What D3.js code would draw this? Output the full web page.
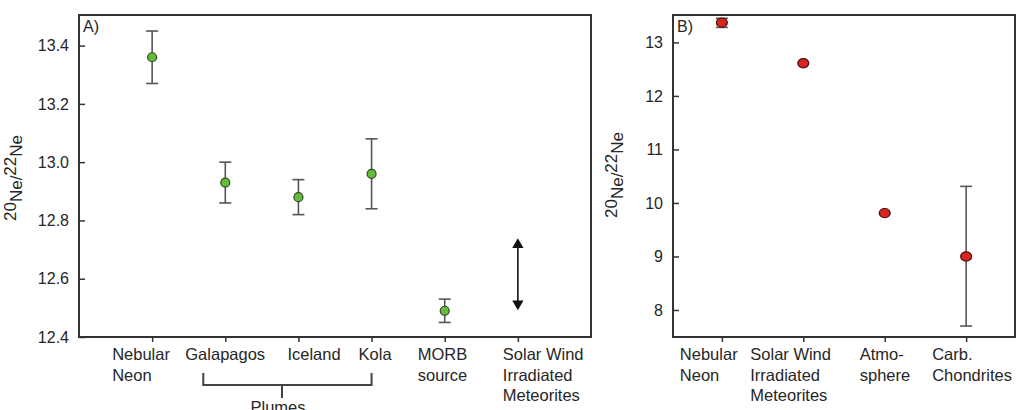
<!DOCTYPE html>
<html>
<head>
<meta charset="utf-8">
<script src="https://cdn.jsdelivr.net/npm/d3@7"></script>
<style>
  body { margin: 0; background: #fff; }
  text { font-family: "Liberation Sans", Arial, sans-serif; fill: #262626; }
</style>
</head>
<body>
<svg width="1021" height="410"></svg>
<script>
// ---- data, panel A ----
const catsA = ['Nebular Neon', 'Galapagos', 'Iceland', 'Kola', 'MORB source', 'Solar Wind'];
const labelsA = [['Nebular', 'Neon'], ['Galapagos'], ['Iceland'], ['Kola'], ['MORB', 'source'], ['Solar Wind', 'Irradiated', 'Meteorites']];
const valA = [13.36, 12.93, 12.88, 12.96, 12.49, null];
const hiA = [13.45, 13.00, 12.94, 13.08, 12.53, null];
const loA = [13.27, 12.86, 12.82, 12.84, 12.45, null];
const arrowA = [12.50, 12.73];          // solar wind irradiated meteorites range
const ticksA = [12.4, 12.6, 12.8, 13.0, 13.2, 13.4];
const plumesA = ['Galapagos', 'Kola'];

// ---- data, panel B ----
const catsB = ['Nebular Neon', 'Solar Wind', 'Atmosphere', 'Carb. Chondrites'];
const labelsB = [['Nebular', 'Neon'], ['Solar Wind', 'Irradiated', 'Meteorites'], ['Atmo-', 'sphere'], ['Carb.', 'Chondrites']];
const valB = [13.37, 12.61, 9.81, 9.0];
const hiB = [13.45, null, null, 10.31];
const loB = [13.28, null, null, 7.7];
const ticksB = [8, 9, 10, 11, 12, 13];

// ---- layout ----
const svg = d3.select('svg');
const plotTop = 15, plotBottom = 337;
const boxA = {left: 79, right: 591};
const boxB = {left: 673, right: 1015};
const labelShiftA = [-40, -40, -11, -13, -27, -15];
const labelShiftB = [-42, -53, -25, -34];

const xA = d3.scalePoint().domain(catsA).range([boxA.left, boxA.right]).padding(1);
const yA = d3.scaleLinear().domain([12.4, 13.505]).range([plotBottom, plotTop]);
const xB = d3.scalePoint().domain(catsB).range([boxB.left, boxB.right]).padding(0.6);
const yB = d3.scaleLinear().domain([7.495, 13.512]).range([plotBottom, plotTop]);

function panel(box, x, y, ticks, fmt, cats, labels, shifts, name, ylabX, ylabY) {
    const g = svg.append('g');

    const ya = g.append('g')
        .attr('transform', `translate(${box.left},0)`)
        .call(d3.axisLeft(y).tickValues(ticks).tickFormat(fmt).tickSize(-6).tickPadding(10));
    ya.select('.domain').remove();
    ya.selectAll('line').attr('stroke', '#333').attr('stroke-width', 1.5);
    ya.selectAll('text').attr('font-size', 16).attr('fill', '#262626')
        .style('font-family', '"Liberation Sans", Arial, sans-serif');

    const xa = g.append('g')
        .attr('transform', `translate(0,${plotBottom})`)
        .call(d3.axisBottom(x).tickSize(5).tickFormat(''));
    xa.select('.domain').remove();
    xa.selectAll('line').attr('stroke', '#333').attr('stroke-width', 1.5);

    g.append('rect')
        .attr('x', box.left).attr('y', plotTop)
        .attr('width', box.right - box.left).attr('height', plotBottom - plotTop)
        .attr('fill', 'none').attr('stroke', '#333').attr('stroke-width', 2);

    // category labels
    cats.forEach((c, i) => {
        const t = g.append('text')
            .attr('x', x(c) + shifts[i]).attr('y', 360)
            .attr('font-size', 16.5);
        labels[i].forEach((l, j) => {
            t.append('tspan').attr('x', x(c) + shifts[i]).attr('dy', j ? 20.5 : 0).text(l);
        });
    });

    g.append('text').attr('x', box.left + 4).attr('y', 32)
        .attr('font-size', 16).text(name);

    // y label 20Ne/22Ne
    const yl = g.append('text')
        .attr('transform', `translate(${ylabX},${ylabY}) rotate(-90)`)
        .attr('text-anchor', 'middle')
        .attr('font-size', 17);
    yl.append('tspan').attr('dy', -6).text('20');
    yl.append('tspan').attr('dy', 6).text('Ne/');
    yl.append('tspan').attr('dy', -6).text('22');
    yl.append('tspan').attr('dy', 6).text('Ne');
    return g;
}

function errorBars(g, x, y, cats, hi, lo) {
    cats.forEach((c, i) => {
        if (hi[i] == null) return;
        const cx = x(c);
        g.append('line').attr('x1', cx).attr('x2', cx)
            .attr('y1', y(hi[i])).attr('y2', y(lo[i]))
            .attr('stroke', '#555').attr('stroke-width', 1.6);
        [hi[i], lo[i]].forEach(v => {
            g.append('line').attr('x1', cx - 6).attr('x2', cx + 6)
                .attr('y1', y(v)).attr('y2', y(v))
                .attr('stroke', '#555').attr('stroke-width', 1.6);
        });
    });
}

// ---- panel A ----
const gA = panel(boxA, xA, yA, ticksA, d3.format('.1f'), catsA, labelsA, labelShiftA, 'A)', 22, 178);
errorBars(gA, xA, yA, catsA, hiA, loA);
catsA.forEach((c, i) => {
    if (valA[i] == null) return;
    gA.append('circle')
        .attr('cx', xA(c)).attr('cy', yA(valA[i])).attr('r', 4.5)
        .attr('fill', '#66bb38').attr('stroke', '#2f4a22').attr('stroke-width', 1.2);
});

// solar wind double arrow
const ax = xA('Solar Wind');
gA.append('line').attr('x1', ax).attr('x2', ax)
    .attr('y1', yA(arrowA[0]) - 6).attr('y2', yA(arrowA[1]) + 6)
    .attr('stroke', '#111').attr('stroke-width', 1.6);
const arrowHead = d3.symbol().type(d3.symbolTriangle).size(55);
gA.append('path').attr('d', arrowHead())
    .attr('transform', `translate(${ax},${yA(arrowA[1]) + 4})`).attr('fill', '#111');
gA.append('path').attr('d', arrowHead())
    .attr('transform', `translate(${ax},${yA(arrowA[0]) - 4}) rotate(180)`).attr('fill', '#111');

// plumes bracket
const bx0 = xA(plumesA[0]) - 22, bx1 = xA(plumesA[1]);
const bmid = 282;
gA.append('path')
    .attr('d', `M${bx0},373 V385 H${bx1} V373 M${bmid},385 V398`)
    .attr('fill', 'none').attr('stroke', '#444').attr('stroke-width', 2);
gA.append('text').attr('x', 278).attr('y', 413).attr('text-anchor', 'middle')
    .attr('font-size', 16.5).text('Plumes');

// ---- panel B ----
const gB = panel(boxB, xB, yB, ticksB, d3.format('d'), catsB, labelsB, labelShiftB, 'B)', 623, 175);
errorBars(gB, xB, yB, catsB, hiB, loB);
catsB.forEach((c, i) => {
    gB.append('ellipse')
        .attr('cx', xB(c)).attr('cy', yB(valB[i])).attr('rx', 5.5).attr('ry', 4.6)
        .attr('fill', '#d8261c').attr('stroke', '#4a1010').attr('stroke-width', 1.2);
});
</script>
</body>
</html>
